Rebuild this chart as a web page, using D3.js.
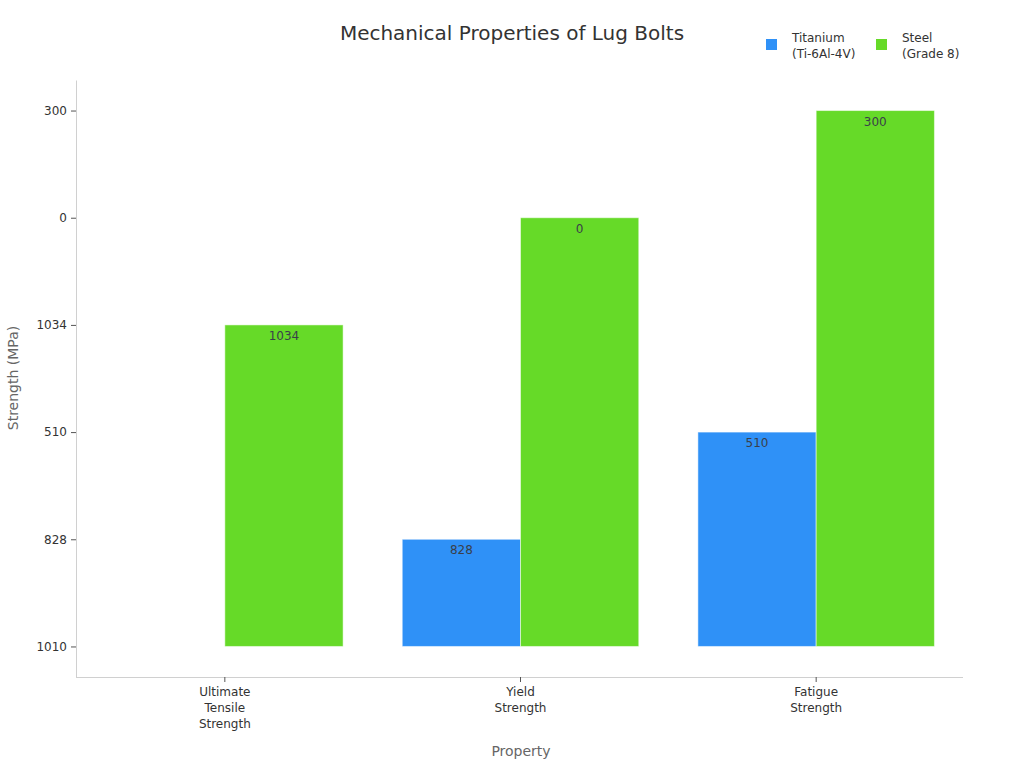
<!DOCTYPE html>
<html>
<head>
<meta charset="utf-8">
<script src="https://cdn.jsdelivr.net/npm/d3@7"></script>
<style>
    body { margin: 0; background: #fff; }
    text { font-family: "DejaVu Sans", sans-serif; }
</style>
</head>
<body>
<div id="chart"></div>
<script>
// data
const categories = ["Ultimate\nTensile\nStrength", "Yield\nStrength", "Fatigue\nStrength"];
const seriesNames = ["Titanium\n(Ti-6Al-4V)", "Steel\n(Grade 8)"];
const titaniumValues = ["1010", "828", "510"];
const steelValues = ["1034", "0", "300"];
const yTickLabels = ["1010", "828", "510", "1034", "0", "300"]; // bottom -> top
const colors = ["#2f91f7", "#66da28"];

const width = 1024, height = 768;
const margin = {top: 80, right: 61, bottom: 91, left: 76};

const svg = d3.select('#chart').append('svg')
    .attr('width', width)
    .attr('height', height);

const x0 = d3.scaleBand()
    .domain(categories)
    .range([margin.left + 1, width - margin.right + 1])
    .paddingInner(0.2)
    .paddingOuter(0.1);

const x1 = d3.scaleBand()
    .domain(seriesNames)
    .range([0, x0.bandwidth()]);

const y = d3.scalePoint()
    .domain(yTickLabels)
    .range([height - margin.bottom, margin.top])
    .padding(0.285);

const rows = categories.map((c, i) => ({
    cat: c,
    vals: [titaniumValues[i], steelValues[i]]
}));

// axes
const yAxis = svg.append('g')
    .attr('transform', `translate(${margin.left},0)`)
    .call(d3.axisLeft(y).tickSize(5).tickSizeOuter(0).tickPadding(4));
yAxis.select('.domain').attr('stroke', '#d0d0d0');
yAxis.selectAll('.tick line').attr('stroke', '#555');
yAxis.selectAll('.tick text').attr('fill', '#333').style('font-size', '12px');

const xAxis = svg.append('g')
    .attr('transform', `translate(0,${height - margin.bottom})`)
    .call(d3.axisBottom(x0).tickSize(5).tickSizeOuter(0).tickFormat(''));
xAxis.select('.domain').attr('stroke', '#d0d0d0')
    .attr('d', `M${margin.left},0.5H${width - margin.right}`);
xAxis.selectAll('.tick line').attr('stroke', '#555');

xAxis.selectAll('.tick').append('text')
    .attr('fill', '#333')
    .attr('text-anchor', 'middle')
    .style('font-size', '12px')
    .selectAll('tspan')
    .data(d => d.split('\n'))
    .enter().append('tspan')
    .attr('x', 0)
    .attr('y', (d, i) => 19 + i * 16)
    .text(d => d);

// bars
const groups = svg.append('g').selectAll('g').data(rows)
    .enter().append('g')
    .attr('transform', d => `translate(${x0(d.cat)},0)`);

const bars = groups.selectAll('g').data(d => d.vals.map((v, i) => ({v: v, s: seriesNames[i], i: i})))
    .enter().append('g');

bars.append('rect')
    .attr('x', d => x1(d.s))
    .attr('width', x1.bandwidth())
    .attr('y', d => y(d.v))
    .attr('height', d => y(yTickLabels[0]) - y(d.v))
    .attr('fill', (d, i) => colors[d.i])
    .attr('stroke', 'rgba(255,255,255,0.5)')
    .attr('stroke-width', 1);

bars.filter(d => y(d.v) < y(yTickLabels[0]))
    .append('text')
    .attr('x', d => x1(d.s) + x1.bandwidth() / 2)
    .attr('y', d => y(d.v) + 15)
    .attr('text-anchor', 'middle')
    .attr('fill', '#3a3f4a')
    .style('font-size', '12px')
    .text(d => d.v);

// titles
svg.append('text')
    .attr('x', 512)
    .attr('y', 40)
    .attr('text-anchor', 'middle')
    .attr('fill', '#333')
    .style('font-size', '20px')
    .text('Mechanical Properties of Lug Bolts');

svg.append('text')
    .attr('x', 521)
    .attr('y', 756)
    .attr('text-anchor', 'middle')
    .attr('fill', '#666')
    .style('font-size', '14px')
    .text('Property');

svg.append('text')
    .attr('transform', 'translate(18,378) rotate(-90)')
    .attr('text-anchor', 'middle')
    .attr('fill', '#666')
    .style('font-size', '14px')
    .text('Strength (MPa)');

// legend
const legend = svg.append('g').selectAll('g').data(seriesNames)
    .enter().append('g')
    .attr('transform', (d, i) => `translate(${766 + i * 110},39)`);

legend.append('rect')
    .attr('width', 11)
    .attr('height', 11)
    .attr('fill', (d, i) => colors[i]);

legend.append('text')
    .attr('fill', '#333')
    .style('font-size', '12px')
    .selectAll('tspan')
    .data(d => d.split('\n'))
    .enter().append('tspan')
    .attr('x', 26)
    .attr('y', (d, i) => 3 + i * 16)
    .text(d => d);
</script>
</body>
</html>
